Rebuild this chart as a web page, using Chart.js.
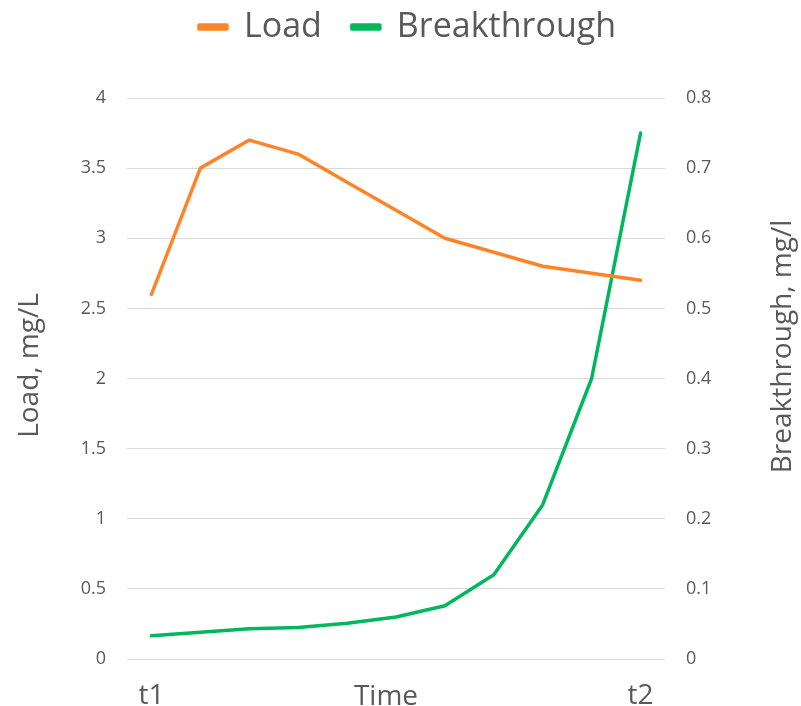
<!DOCTYPE html>
<html>
<head>
<meta charset="utf-8">
<script src="https://cdn.jsdelivr.net/npm/chart.js@4/dist/chart.umd.min.js"></script>
<style>
  html, body { margin: 0; padding: 0; background: #fff; }
  #wrap { width: 801px; height: 706px; }
</style>
</head>
<body>
<div id="wrap"><canvas id="c" width="801" height="706"></canvas></div>
<script>
const categories = ['t1', '', '', '', '', '', '', '', '', '', 't2'];
const loadValues = [2.6, 3.5, 3.7, 3.6, 3.4, 3.2, 3.0, 2.9, 2.8, 2.75, 2.7];
const breakthroughValues = [0.033, 0.038, 0.043, 0.045, 0.051, 0.060, 0.076, 0.12, 0.22, 0.40, 0.75];
const seriesNames = ['Load', 'Breakthrough'];
const xTitle = 'Time';
const leftTitle = 'Load, mg/L';
const rightTitle = 'Breakthrough, mg/l';

const FONT = "'Open Sans', 'Noto Sans', sans-serif";
const TXT = '#595959';
const GRID = '#d9d9d9';

// Legend: add space below it so the plot starts lower
const legendGap = {
  id: 'legendGap',
  beforeInit(chart) {
    const origFit = chart.legend.fit;
    chart.legend.fit = function () {
      origFit.bind(chart.legend)();
      this.height += 44;
    };
  }
};

// Axis titles drawn as text (both y titles read bottom-to-top like the reference)
const axisTitles = {
  id: 'axisTitles',
  afterDraw(chart) {
    const ctx = chart.ctx;
    const area = chart.chartArea;
    ctx.save();
    ctx.fillStyle = TXT;
    ctx.font = "28px " + FONT;
    ctx.textAlign = 'center';
    ctx.textBaseline = 'alphabetic';
    ctx.fillText(xTitle, (area.left + area.right) / 2 - 10, chart.height - 1);
    ctx.textBaseline = 'middle';
    ctx.save();
    ctx.translate(30, (area.top + area.bottom) / 2 - 13);
    ctx.rotate(-Math.PI / 2);
    ctx.fillText(leftTitle, 0, 0);
    ctx.restore();
    ctx.save();
    ctx.translate(chart.width - 18, (area.top + area.bottom) / 2 - 32);
    ctx.rotate(-Math.PI / 2);
    ctx.fillText(rightTitle, 0, 0);
    ctx.restore();
    ctx.restore();
  }
};

new Chart(document.getElementById('c'), {
  type: 'line',
  data: {
    labels: categories,
    datasets: [
      {
        label: seriesNames[0],
        data: loadValues,
        yAxisID: 'yL',
        borderColor: '#FF8427',
        backgroundColor: '#FF8427',
        borderWidth: 3.5,
        pointRadius: 0,
        tension: 0,
        borderCapStyle: 'round',
        borderJoinStyle: 'round'
      },
      {
        label: seriesNames[1],
        data: breakthroughValues,
        yAxisID: 'yR',
        borderColor: '#00B85C',
        backgroundColor: '#00B85C',
        borderWidth: 3.5,
        pointRadius: 0,
        tension: 0,
        borderCapStyle: 'round',
        borderJoinStyle: 'round'
      }
    ]
  },
  options: {
    responsive: false,
    animation: false,
    devicePixelRatio: 1,
    layout: { padding: { left: 14, right: 0, top: -20, bottom: 0 } },
    plugins: {
      tooltip: { enabled: false },
      legend: {
        position: 'top',
        align: 'center',
        labels: {
          boxWidth: 28,
          boxHeight: 4,
          padding: 30,
          color: TXT,
          font: { family: FONT, size: 34 }
        }
      }
    },
    scales: {
      x: {
        type: 'category',
        offset: true,
        grid: { display: false },
        border: { display: false },
        ticks: {
          color: TXT,
          font: { family: FONT, size: 28 },
          autoSkip: false,
          maxRotation: 0,
          padding: 12
        },
        afterFit: (s) => { s.height = 47; }
      },
      yL: {
        type: 'linear',
        position: 'left',
        min: 0,
        max: 4,
        ticks: {
          stepSize: 0.5,
          color: TXT,
          font: { family: FONT, size: 18 },
          padding: 21,
          callback: (v) => String(Math.round(v * 100) / 100)
        },
        grid: { color: GRID, lineWidth: 1, drawTicks: false },
        border: { display: false },
        afterFit: (s) => { s.width = 113; }
      },
      yR: {
        type: 'linear',
        position: 'right',
        min: 0,
        max: 0.8,
        ticks: {
          stepSize: 0.1,
          color: TXT,
          font: { family: FONT, size: 18 },
          padding: 21,
          callback: (v) => (v === 0 ? '0' : (Math.round(v * 10) / 10).toFixed(1))
        },
        grid: { display: false, drawTicks: false },
        border: { display: false },
        afterFit: (s) => { s.width = 136; }
      }
    }
  },
  plugins: [legendGap, axisTitles]
});
</script>
</body>
</html>
